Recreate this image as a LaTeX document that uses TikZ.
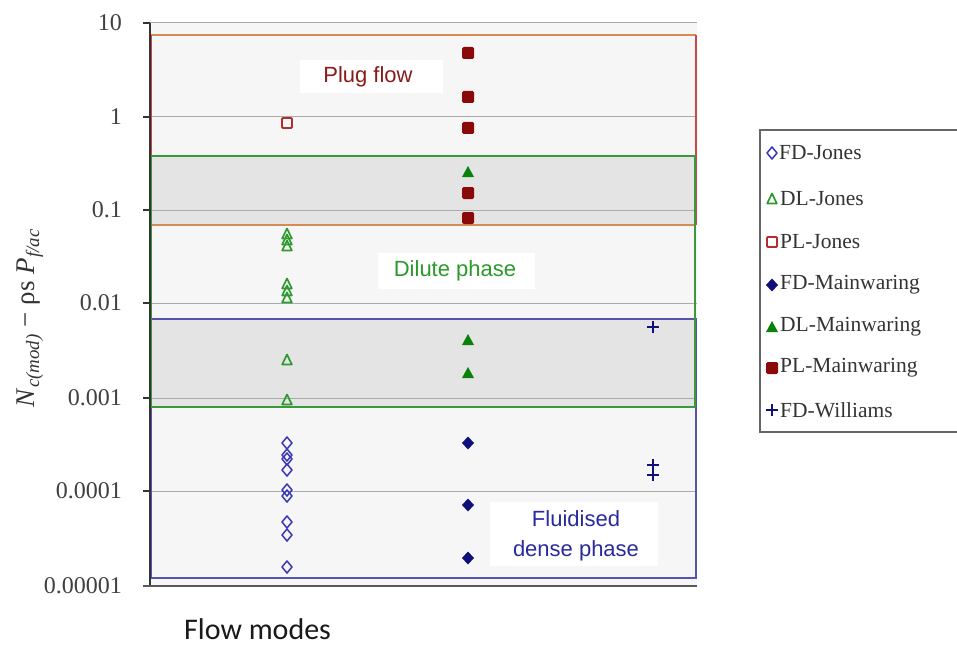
\documentclass[tikz,border=0pt]{standalone}
\usepackage{fontspec}
\setmainfont{Liberation Serif}
\newfontfamily\arialf{Liberation Sans}
\newfontfamily\calib{Carlito}
\definecolor{plotbg}{HTML}{F6F6F6}
\definecolor{overlap}{HTML}{E4E4E4}
\definecolor{gridc}{HTML}{AAAAAA}
\definecolor{plugtop}{HTML}{D68A55}
\definecolor{plugside}{HTML}{C84848}
\definecolor{dilc}{HTML}{3A9A3A}
\definecolor{fluc}{HTML}{5555B0}
\definecolor{plugtxt}{HTML}{8B1A1A}
\definecolor{diltxt}{HTML}{2A9A2A}
\definecolor{flutxt}{HTML}{2A2AA0}
\definecolor{fdblue}{HTML}{3838B8}
\definecolor{navyc}{HTML}{10107A}
\definecolor{dlgreen}{HTML}{2E9A2E}
\definecolor{fgreen}{HTML}{0A820A}
\definecolor{plred}{HTML}{B03030}
\definecolor{darkred}{HTML}{8A0A0A}
\tikzset{
  pics/odiam/.style={code={\draw[fdblue,line width=1.5pt,line join=round] (0pt,6pt)--(5pt,0pt)--(0pt,-6pt)--(-5pt,0pt)--cycle;}},
  pics/otri/.style={code={\draw[dlgreen,line width=1.7pt,line join=round] (0pt,5.5pt)--(4.8pt,-4.5pt)--(-4.8pt,-4.5pt)--cycle;}},
  pics/osq/.style={code={\draw[plred,line width=1.8pt,rounded corners=1pt] (-5pt,-5pt) rectangle (5pt,5pt);}},
  pics/fdiam/.style={code={\fill[navyc,line join=round] (0pt,6.5pt)--(6pt,0pt)--(0pt,-6.5pt)--(-6pt,0pt)--cycle;}},
  pics/ftri/.style={code={\fill[fgreen] (0pt,6pt)--(6pt,-5pt)--(-6pt,-5pt)--cycle;}},
  pics/fsq/.style={code={\fill[darkred,rounded corners=1.5pt] (-6pt,-6pt) rectangle (6pt,6pt);}},
  pics/wplus/.style={code={\draw[navyc,line width=1.8pt] (-6pt,0pt)--(6pt,0pt) (0pt,-6pt)--(0pt,6pt);}},
  ticklab/.style={anchor=east,font=\fontsize{24}{26}\selectfont,text=black!75,inner sep=0pt},
  zonebox/.style={fill=white,draw=none},
  zonetxt/.style={font=\arialf\fontsize{22}{30}\selectfont,inner sep=0pt,align=center},
  legtxt/.style={anchor=west,font=\fontsize{21.5}{23}\selectfont,text=black!80,inner sep=0pt},
  gridline/.style={gridc,line width=1pt},
  zoneline/.style={line width=2.6pt},
}
\begin{document}
\begin{tikzpicture}[x=1pt,y=-1pt]
\useasboundingbox (0,0) rectangle (957,647);
% plot area
\fill[plotbg] (150,23) rectangle (697,586);
\fill[overlap] (151,156) rectangle (696,225);
\fill[overlap] (151,319) rectangle (696,407);
\foreach \yy in {23,117,210,303,398,491}
  \draw[gridline] (150,\yy) -- (697,\yy);
% zone rectangles
\draw[plugtop,zoneline] (151,35) -- (696,35) (151,225) -- (696,225);
\draw[plugside,zoneline] (151,35) -- (151,225) (696,35) -- (696,225);
\draw[fluc,zoneline] (151,319) rectangle (696,578);
\draw[dilc,zoneline] (151,156) rectangle (695,407);
% zone labels
\fill[zonebox] (300,60) rectangle (443,93);
\node[zonetxt,text=plugtxt] (plug) at (368,77) {Plug flow};
\fill[zonebox] (378,253) rectangle (535,289);
\node[zonetxt,text=diltxt] (dil) at (455,271) {Dilute phase};
\fill[zonebox] (490,502) rectangle (658,566);
\node[zonetxt,text=flutxt] (flu) at (576,536) {Fluidised\\dense phase};
% Jones data
\pic at (287,123) {osq};
\foreach \yy in {234,240,246,284,291,298,360,400} \pic at (287,\yy) {otri};
\foreach \yy in {443,455,459,470,490,496,522,535,567} \pic at (287,\yy) {odiam};
% Mainwaring data
\foreach \yy in {53,97,128,193,218} \pic at (468,\yy) {fsq};
\foreach \yy in {172,340,373} \pic at (468,\yy) {ftri};
\foreach \yy in {443,505,558} \pic at (468,\yy) {fdiam};
% Williams data
\foreach \yy in {327,465,475} \pic at (653,\yy) {wplus};
% axes
\draw[black!80,line width=1.5pt] (150,23) -- (150,586);
\draw[black!65,line width=2pt] (143,586) -- (697,586);
\foreach \yy in {23,117,210,303,398,491}
  \draw[black!80,line width=1.5pt] (143,\yy) -- (150,\yy);
\node[ticklab] (t10) at (122,23) {10};
\node[ticklab] (t1) at (122,117) {1};
\node[ticklab] (t01) at (122,210) {0.1};
\node[ticklab] (t001) at (122,303) {0.01};
\node[ticklab] (t0001) at (122,398) {0.001};
\node[ticklab] (t00001) at (122,491) {0.0001};
\node[ticklab] (t000001) at (122,586) {0.00001};
% axis titles
\node[rotate=90,font=\fontsize{27}{29}\selectfont,text=black!80] (ytitle) at (30,318)
  {\textit{N}\textsubscript{\textit{c(mod)}} − ρs \textit{P}\textsubscript{\textit{f/ac}}};
\node[anchor=base west,inner sep=0pt,font=\calib\fontsize{30}{32}\selectfont,text=black!90] (xtitle) at (184,639) {Flow modes};
% legend
\fill[white] (760,130) rectangle (957,432);
\draw[black!60,line width=2.5pt] (957,130) -- (760,130) -- (760,432) -- (957,432);
\pic at (772,153) {odiam};
\node[legtxt] (l1) at (779,153) {FD-Jones};
\pic at (772,199) {otri};
\node[legtxt] (l2) at (780,199) {DL-Jones};
\pic at (772,242) {osq};
\node[legtxt] (l3) at (780,242) {PL-Jones};
\pic at (772,285) {fdiam};
\node[legtxt] (l4) at (780,285) {FD-Mainwaring};
\pic at (772,327) {ftri};
\node[legtxt] (l5) at (780,327) {DL-Mainwaring};
\pic at (772,368) {fsq};
\node[legtxt] (l6) at (780,368) {PL-Mainwaring};
\pic at (772,410) {wplus};
\node[legtxt] (l7) at (780,410) {FD-Williams};
\end{tikzpicture}
\end{document}
